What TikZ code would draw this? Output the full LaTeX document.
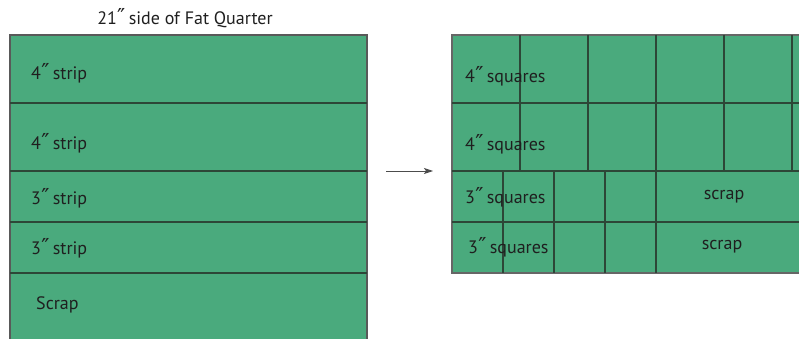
\documentclass[tikz,border=0pt]{standalone}
\usepackage{fontspec}
\setmainfont{PT Sans}
\newfontfamily\djvfont{DejaVu Sans}
\newcommand{\inchmark}{{\djvfont\fontsize{22}{20}\selectfont\kern0.3pt″\kern-1.5pt}}
\usetikzlibrary{arrows.meta}
\definecolor{fq}{RGB}{74,170,125}
\definecolor{cut}{RGB}{45,70,55}
\tikzset{
  txt/.style={inner sep=0pt, font=\fontsize{18}{20}\selectfont, text=black!88},
  lbl/.style={txt, anchor=west},
  cutline/.style={draw=cut, line width=1.1pt},
}
\begin{document}
\begin{tikzpicture}[x=1pt,y=-1pt]
\useasboundingbox (0,0) rectangle (799,339);
% left fat quarter
\fill[fq] (10,35) rectangle (367,345);
\draw[draw=black!65, line width=1.1pt] (10,345) -- (10,35) -- (367,35) -- (367,345);
\foreach \y in {103,171,222,273} \draw[cutline] (10,\y) -- (367,\y);
\node[txt] (title) at (185,18) {21\inchmark{} side of Fat Quarter};
\node[lbl] (s1) at (31,73) {4\inchmark{} strip};
\node[lbl] (s2) at (31,143) {4\inchmark{} strip};
\node[lbl] (s3) at (31,198) {3\inchmark{} strip};
\node[lbl] (s4) at (31,248) {3\inchmark{} strip};
\node[lbl] (s5) at (36,305) {Scrap};
% arrow
\coordinate (a1) at (386,171);
\coordinate (a2) at (433,171);
\draw[black!70, line width=0.9pt, -{Stealth[length=9pt,width=6pt,inset=2pt]}] (a1) -- (a2);
% right cut pieces
\fill[fq] (452,35) rectangle (805,273);
\draw[draw=black!60, line width=1.1pt] (805,35) -- (452,35) -- (452,273) -- (805,273);
\foreach \y in {103,171,222} \draw[cutline] (452,\y) -- (805,\y);
\foreach \x in {520,588,656,724,792} \draw[cutline] (\x,35) -- (\x,171);
\foreach \x in {503,554,605,656} \draw[cutline] (\x,171) -- (\x,273);
\node[lbl] (q1) at (465,76) {4\inchmark{} squares};
\node[lbl] (q2) at (465,144) {4\inchmark{} squares};
\node[lbl] (q3) at (465,197) {3\inchmark{} squares};
\node[lbl] (q4) at (468,247) {3\inchmark{} squares};
\node[txt] (r1) at (724,197) {scrap};
\node[txt] (r2) at (722,247) {scrap};
\end{tikzpicture}
\end{document}
